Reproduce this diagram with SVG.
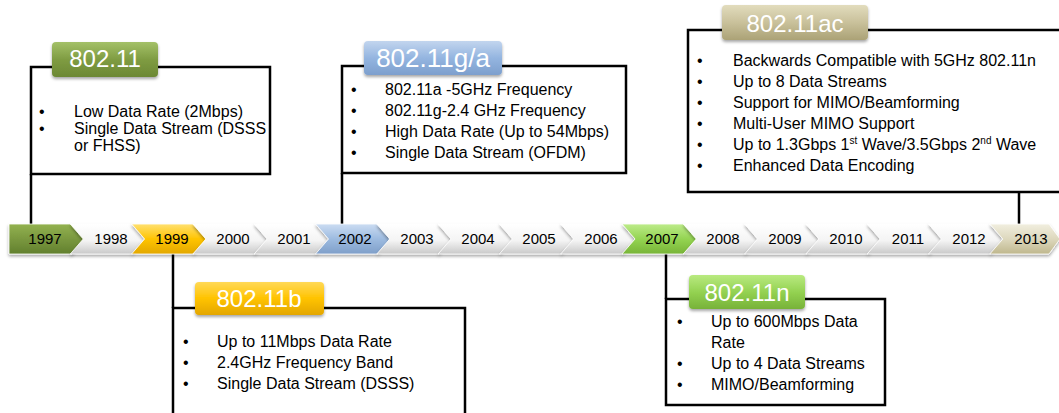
<svg xmlns="http://www.w3.org/2000/svg" width="1059" height="413" viewBox="0 0 1059 413">
<defs>
<linearGradient id="gW" x1="0" y1="0" x2="0" y2="1"><stop offset="0" stop-color="#ffffff"/><stop offset="0.55" stop-color="#f4f4f4"/><stop offset="1" stop-color="#c9c9c9"/></linearGradient>
<linearGradient id="g1997" x1="0" y1="0" x2="0" y2="1"><stop offset="0" stop-color="#93b24f"/><stop offset="0.5" stop-color="#7a983f"/><stop offset="1" stop-color="#62802e"/></linearGradient>
<linearGradient id="g1999" x1="0" y1="0" x2="0" y2="1"><stop offset="0" stop-color="#ffe070"/><stop offset="0.5" stop-color="#ffc400"/><stop offset="1" stop-color="#e2a700"/></linearGradient>
<linearGradient id="g2002" x1="0" y1="0" x2="0" y2="1"><stop offset="0" stop-color="#cbdcf2"/><stop offset="0.5" stop-color="#9dbbe0"/><stop offset="1" stop-color="#7f9fc9"/></linearGradient>
<linearGradient id="g2007" x1="0" y1="0" x2="0" y2="1"><stop offset="0" stop-color="#bdeb8a"/><stop offset="0.5" stop-color="#94d452"/><stop offset="1" stop-color="#78b438"/></linearGradient>
<linearGradient id="g2013" x1="0" y1="0" x2="0" y2="1"><stop offset="0" stop-color="#f1eedf"/><stop offset="0.5" stop-color="#ddd8bd"/><stop offset="1" stop-color="#bfb78d"/></linearGradient>
<linearGradient id="l1" x1="0" y1="0" x2="0" y2="1"><stop offset="0" stop-color="#a4c168"/><stop offset="0.5" stop-color="#7f9c42"/><stop offset="1" stop-color="#6c8834"/></linearGradient>
<linearGradient id="lga" x1="0" y1="0" x2="0" y2="1"><stop offset="0" stop-color="#c2d5ee"/><stop offset="0.5" stop-color="#94b5e0"/><stop offset="1" stop-color="#7d9fcd"/></linearGradient>
<linearGradient id="lac" x1="0" y1="0" x2="0" y2="1"><stop offset="0" stop-color="#e2dcbd"/><stop offset="0.5" stop-color="#c9c19b"/><stop offset="1" stop-color="#aba276"/></linearGradient>
<linearGradient id="lb" x1="0" y1="0" x2="0" y2="1"><stop offset="0" stop-color="#ffd958"/><stop offset="0.5" stop-color="#ffc300"/><stop offset="1" stop-color="#e3a600"/></linearGradient>
<linearGradient id="ln" x1="0" y1="0" x2="0" y2="1"><stop offset="0" stop-color="#b9ea80"/><stop offset="0.5" stop-color="#94d252"/><stop offset="1" stop-color="#77b238"/></linearGradient>
<filter id="sh" x="-10%" y="-20%" width="120%" height="160%"><feDropShadow dx="0" dy="2" stdDeviation="1.5" flood-color="#000" flood-opacity="0.35"/></filter>
</defs>
<style>
.box{fill:#fff;stroke:#000;stroke-width:2.5}
.con{stroke:#000;stroke-width:2.5;fill:none}
.lab{stroke:none;filter:url(#sh)}
.lt{font-family:"Liberation Sans",Arial,sans-serif;font-size:24px;fill:#fff;text-anchor:middle}
.bt{font-family:"Liberation Sans",Arial,sans-serif;font-size:16px;fill:#000}
.chev{stroke:#ffffff;stroke-width:0.8;filter:url(#sh)}
.yr{font-family:"Liberation Sans",Arial,sans-serif;font-size:15px;fill:#000;text-anchor:middle}
</style>
<g id="connectors">
<line class="con" x1="31" y1="174" x2="31" y2="225"/>
<line class="con" x1="342" y1="173" x2="342" y2="225"/>
<line class="con" x1="1019" y1="192" x2="1019" y2="225"/>
<line class="con" x1="173" y1="253" x2="173" y2="308"/>
<line class="con" x1="666" y1="253" x2="666" y2="299"/>
</g>
<g id="timeline">
<polygon class="chev" fill="url(#g1997)" points="9,224 72,224 85,239 72,254 9,254"/><text class="yr" x="45" y="244">1997</text>
<polygon class="chev" fill="url(#gW)" points="70.3,224 132.3,224 145.3,239 132.3,254 70.3,254 83.3,239"/><text class="yr" x="111" y="244">1998</text>
<polygon class="chev" fill="url(#g1999)" points="131.6,224 193.6,224 206.6,239 193.6,254 131.6,254 144.6,239"/><text class="yr" x="172" y="244">1999</text>
<polygon class="chev" fill="url(#gW)" points="192.9,224 254.9,224 267.9,239 254.9,254 192.9,254 205.9,239"/><text class="yr" x="233" y="244">2000</text>
<polygon class="chev" fill="url(#gW)" points="254.2,224 316.2,224 329.2,239 316.2,254 254.2,254 267.2,239"/><text class="yr" x="294" y="244">2001</text>
<polygon class="chev" fill="url(#g2002)" points="315.5,224 377.5,224 390.5,239 377.5,254 315.5,254 328.5,239"/><text class="yr" x="355" y="244">2002</text>
<polygon class="chev" fill="url(#gW)" points="376.8,224 438.8,224 451.8,239 438.8,254 376.8,254 389.8,239"/><text class="yr" x="417" y="244">2003</text>
<polygon class="chev" fill="url(#gW)" points="438.1,224 500.1,224 513.1,239 500.1,254 438.1,254 451.1,239"/><text class="yr" x="478" y="244">2004</text>
<polygon class="chev" fill="url(#gW)" points="499.4,224 561.4,224 574.4,239 561.4,254 499.4,254 512.4,239"/><text class="yr" x="539" y="244">2005</text>
<polygon class="chev" fill="url(#gW)" points="560.7,224 622.7,224 635.7,239 622.7,254 560.7,254 573.7,239"/><text class="yr" x="601" y="244">2006</text>
<polygon class="chev" fill="url(#g2007)" points="622,224 684,224 697,239 684,254 622,254 635,239"/><text class="yr" x="662" y="244">2007</text>
<polygon class="chev" fill="url(#gW)" points="683.3,224 745.3,224 758.3,239 745.3,254 683.3,254 696.3,239"/><text class="yr" x="723" y="244">2008</text>
<polygon class="chev" fill="url(#gW)" points="744.6,224 806.6,224 819.6,239 806.6,254 744.6,254 757.6,239"/><text class="yr" x="785" y="244">2009</text>
<polygon class="chev" fill="url(#gW)" points="805.9,224 867.9,224 880.9,239 867.9,254 805.9,254 818.9,239"/><text class="yr" x="846" y="244">2010</text>
<polygon class="chev" fill="url(#gW)" points="867.2,224 929.2,224 942.2,239 929.2,254 867.2,254 880.2,239"/><text class="yr" x="908" y="244">2011</text>
<polygon class="chev" fill="url(#gW)" points="928.5,224 990.5,224 1003.5,239 990.5,254 928.5,254 941.5,239"/><text class="yr" x="969" y="244">2012</text>
<polygon class="chev" fill="url(#g2013)" points="989.8,224 1049,224 1060,239 1049,254 989.8,254 1002.8,239"/><text class="yr" x="1031" y="244">2013</text>
</g>
<g id="n80211">
<rect class="box" x="31" y="67" width="239" height="107"/>
<rect class="lab" fill="url(#l1)" x="52" y="42" width="106" height="35" rx="4"/>
<text class="lt" x="105" y="67">802.11</text>
<text class="bt" x="39" y="117">•</text><text class="bt" x="74" y="117">Low Data Rate (2Mbps)</text>
<text class="bt" x="39" y="134">•</text><text class="bt" x="74" y="134">Single Data Stream (DSSS</text>
<text class="bt" x="74" y="151">or FHSS)</text>
</g>
<g id="n80211ga">
<rect class="box" x="342" y="66" width="284" height="107"/>
<rect class="lab" fill="url(#lga)" x="364" y="41" width="138" height="34" rx="4"/>
<text class="lt" x="433" y="66.5" style="font-size:26px">802.11g/a</text>
<text class="bt" x="351" y="94.5">•</text><text class="bt" x="385" y="94.5">802.11a -5GHz Frequency</text>
<text class="bt" x="351" y="115.5">•</text><text class="bt" x="385" y="115.5">802.11g-2.4 GHz Frequency</text>
<text class="bt" x="351" y="136.5">•</text><text class="bt" x="385" y="136.5">High Data Rate (Up to 54Mbps)</text>
<text class="bt" x="351" y="157.5">•</text><text class="bt" x="385" y="157.5">Single Data Stream (OFDM)</text>
</g>
<g id="n80211ac">
<rect class="box" x="688" y="30" width="390" height="162"/>
<rect class="lab" fill="url(#lac)" x="722" y="5" width="146" height="35" rx="4"/>
<text class="lt" x="795" y="31.5">802.11ac</text>
<text class="bt" x="697" y="65.5">•</text><text class="bt" x="733" y="65.5">Backwards Compatible with 5GHz 802.11n</text>
<text class="bt" x="697" y="86.5">•</text><text class="bt" x="733" y="86.5">Up to 8 Data Streams</text>
<text class="bt" x="697" y="107.5">•</text><text class="bt" x="733" y="107.5">Support for MIMO/Beamforming</text>
<text class="bt" x="697" y="128.5">•</text><text class="bt" x="733" y="128.5">Multi-User MIMO Support</text>
<text class="bt" x="697" y="149.5">•</text><text class="bt" x="733" y="149.5">Up to 1.3Gbps 1<tspan dy="-6" font-size="10">st</tspan><tspan dy="6"> Wave/3.5Gbps 2</tspan><tspan dy="-6" font-size="10">nd</tspan><tspan dy="6"> Wave</tspan></text>
<text class="bt" x="697" y="170.5">•</text><text class="bt" x="733" y="170.5">Enhanced Data Encoding</text>
</g>
<g id="n80211b">
<rect class="box" x="173" y="308" width="292" height="120"/>
<rect class="lab" fill="url(#lb)" x="195" y="282" width="129" height="33" rx="4"/>
<text class="lt" x="259" y="306.5">802.11b</text>
<text class="bt" x="183" y="346.5">•</text><text class="bt" x="217" y="346.5">Up to 11Mbps Data Rate</text>
<text class="bt" x="183" y="367.5">•</text><text class="bt" x="217" y="367.5">2.4GHz Frequency Band</text>
<text class="bt" x="183" y="388.5">•</text><text class="bt" x="217" y="388.5">Single Data Stream (DSSS)</text>
</g>
<g id="n80211n">
<rect class="box" x="666" y="299" width="219" height="106"/>
<rect class="lab" fill="url(#ln)" x="689" y="275" width="116" height="34" rx="4"/>
<text class="lt" x="747" y="300.5">802.11n</text>
<text class="bt" x="677" y="326.5">•</text><text class="bt" x="711" y="326.5">Up to 600Mbps Data</text>
<text class="bt" x="711" y="347.5">Rate</text>
<text class="bt" x="677" y="368.5">•</text><text class="bt" x="711" y="368.5">Up to 4 Data Streams</text>
<text class="bt" x="677" y="389.5">•</text><text class="bt" x="711" y="389.5">MIMO/Beamforming</text>
</g>
</svg>
